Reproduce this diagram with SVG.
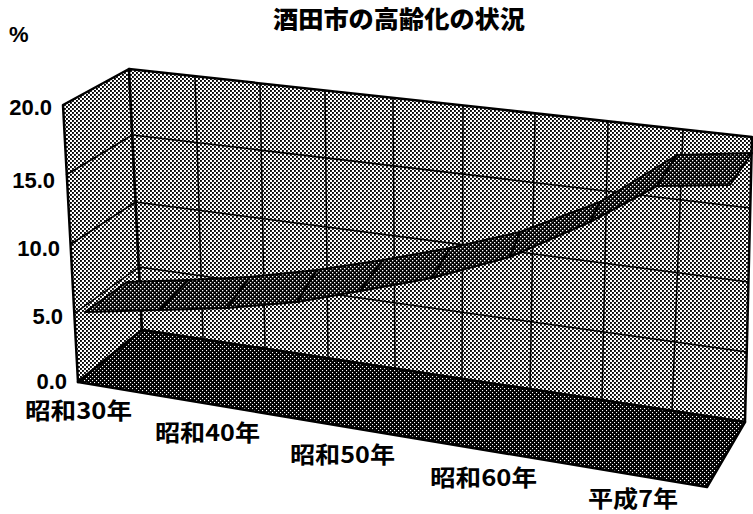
<svg xmlns="http://www.w3.org/2000/svg" width="753" height="514" viewBox="0 0 753 514">
<defs>
<pattern id="pWall" width="4" height="4" patternUnits="userSpaceOnUse">
<rect width="4" height="4" fill="#fff"/>
<rect x="0" y="0" width="1.9" height="1.9" fill="#000"/>
<rect x="2" y="2" width="1.9" height="1.9" fill="#000"/>
</pattern>
<pattern id="pFloor" width="4" height="4" patternUnits="userSpaceOnUse">
<rect width="4" height="4" fill="#000"/>
<rect x="0" y="0" width="1.1" height="1.1" fill="#fff"/>
<rect x="2" y="2" width="1.1" height="1.1" fill="#fff"/>
</pattern>
<pattern id="pRibbon" width="4" height="4" patternUnits="userSpaceOnUse">
<rect width="4" height="4" fill="#000"/>
<rect x="0" y="0" width="1.3" height="1.3" fill="#fff"/>
<rect x="2" y="2" width="1.3" height="1.3" fill="#fff"/>
</pattern>
<style>
.grid{fill:none;stroke:#000;stroke-width:1.5}
.wall{fill:url(#pWall);stroke:#000;stroke-width:2.5;stroke-linejoin:round}
.floor{fill:url(#pFloor);stroke:#000;stroke-width:2.5;stroke-linejoin:round}
.seg{fill:url(#pRibbon);stroke:#000;stroke-width:2;stroke-linejoin:round}
.val{font-family:"Liberation Sans","Noto Sans CJK JP",sans-serif;font-size:22px;font-weight:bold;fill:#000;text-anchor:end}
.cat{font-family:"Noto Sans CJK JP","Liberation Sans",sans-serif;font-size:23px;font-weight:bold;fill:#000}
.title{font-family:"Noto Sans CJK JP",sans-serif;font-size:24px;font-weight:900;fill:#000}
</style>
</defs>
<rect width="753" height="514" fill="#fff"/>
<g id="title"><text class="title" x="273" y="28" textLength="252" lengthAdjust="spacingAndGlyphs">酒田市の高齢化の状況</text></g>
<g id="unit"><text class="val" x="9" y="42" style="text-anchor:start">%</text></g>
<g id="walls">
<polygon class="wall" points="63,105 129,69 142,330 78,382"/>
<polygon class="wall" points="129,69 752,137 745,422 142,330"/>
</g>
<g id="gridlines">
<line class="grid" x1="66" y1="175" x2="132.3" y2="135"/>
<line class="grid" x1="71" y1="244" x2="135.5" y2="202"/>
<line class="grid" x1="75" y1="313" x2="138.8" y2="267"/>
<line class="grid" x1="132.3" y1="135" x2="750.2" y2="208"/>
<line class="grid" x1="135.5" y1="202" x2="748.5" y2="282"/>
<line class="grid" x1="138.8" y1="267" x2="746.8" y2="352"/>
<line class="grid" x1="195" y1="76.2" x2="203" y2="339.3"/>
<line class="grid" x1="260" y1="83.3" x2="265" y2="348.8"/>
<line class="grid" x1="325" y1="90.4" x2="328" y2="358.5"/>
<line class="grid" x1="393" y1="97.8" x2="395" y2="368.7"/>
<line class="grid" x1="463" y1="105.4" x2="462" y2="379"/>
<line class="grid" x1="535" y1="113.3" x2="530" y2="389.4"/>
<line class="grid" x1="608" y1="121.3" x2="602" y2="400.4"/>
<line class="grid" x1="683" y1="129.5" x2="672" y2="411.1"/>
</g>
<g id="floor">
<polygon class="floor" points="78,382 142,330 745,422 707,487"/>
</g>
<g id="series">
<polygon class="seg" points="127,282 188,280 160,310 85,312"/>
<polygon class="seg" points="188,280 250,277 227,308 160,310"/>
<polygon class="seg" points="250,277 317,270 297,302 227,308"/>
<polygon class="seg" points="317,270 383,260 360,291 297,302"/>
<polygon class="seg" points="383,260 450,248 432,278 360,291"/>
<polygon class="seg" points="450,248 520,232 510,257 432,278"/>
<polygon class="seg" points="520,232 600,202 590,222 510,257"/>
<polygon class="seg" points="600,202 677,155 657,186 590,222"/>
<polygon class="seg" points="677,155 752,153 730,185 657,186"/>
</g>
<g id="value-axis">
<text class="val" x="52" y="115">20.0</text>
<text class="val" x="55" y="188">15.0</text>
<text class="val" x="60" y="256">10.0</text>
<text class="val" x="63" y="324">5.0</text>
<text class="val" x="67" y="389">0.0</text>
</g>
<g id="category-axis">
<text class="cat" x="25" y="419" textLength="107" lengthAdjust="spacingAndGlyphs">昭和30年</text>
<text class="cat" x="155" y="441" textLength="105" lengthAdjust="spacingAndGlyphs">昭和40年</text>
<text class="cat" x="290" y="463" textLength="105" lengthAdjust="spacingAndGlyphs">昭和50年</text>
<text class="cat" x="430" y="486" textLength="107" lengthAdjust="spacingAndGlyphs">昭和60年</text>
<text class="cat" x="588" y="507" textLength="90" lengthAdjust="spacingAndGlyphs">平成7年</text>
</g>
</svg>
